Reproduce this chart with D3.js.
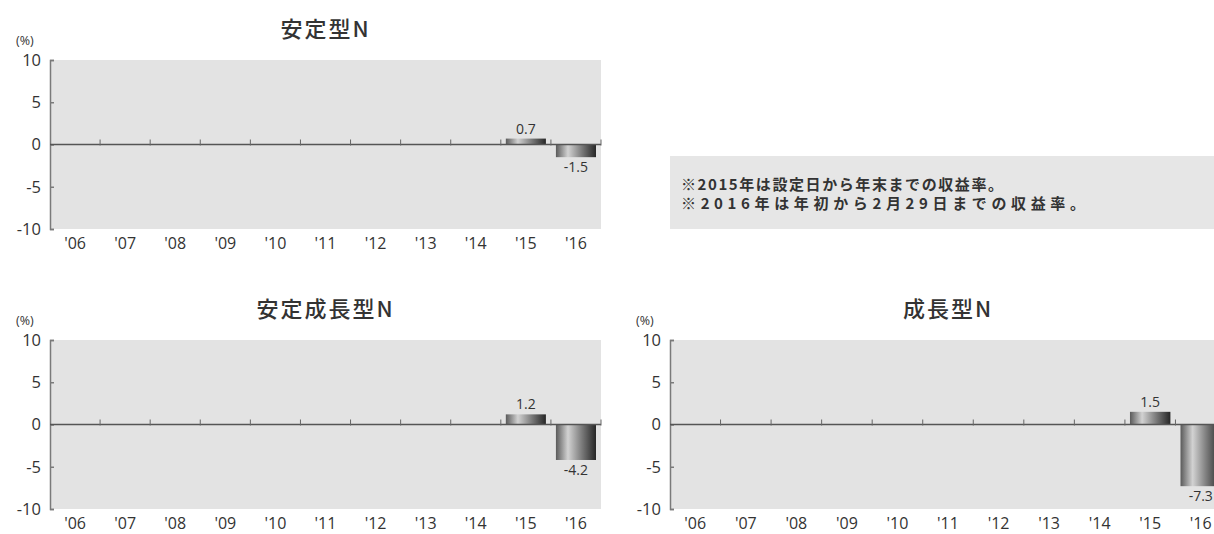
<!DOCTYPE html>
<html>
<head>
<meta charset="utf-8">
<script src="https://cdn.jsdelivr.net/npm/d3@7/dist/d3.min.js"></script>
<style>
  html, body { margin: 0; padding: 0; background: #fff; }
  svg { display: block; }
  text { font-family: "Open Sans", "Noto Sans CJK JP", sans-serif; fill: #333; }
  .cjk { font-family: "Noto Sans CJK JP", sans-serif; }
</style>
</head>
<body>
<svg id="chart" width="1214" height="534"></svg>
<script>
// Annual return by fund (%), years '06–'16
const years = ["'06", "'07", "'08", "'09", "'10", "'11", "'12", "'13", "'14", "'15", "'16"];
const stableN       = [null, null, null, null, null, null, null, null, null, 0.7, -1.5];
const stableGrowthN = [null, null, null, null, null, null, null, null, null, 1.2, -4.2];
const growthN       = [null, null, null, null, null, null, null, null, null, 1.5, -7.3];
const yTicks = [10, 5, 0, -5, -10];
const yDomain = [-10, 10];
const notes = [
  "※2015年は設定日から年末までの収益率。",
  "※2016年は年初から2月29日までの収益率。"
];

const svg = d3.select("#chart");

// Horizontal shading for the bars
const defs = svg.append("defs");
const grad = defs.append("linearGradient")
  .attr("id", "barShade").attr("x1", "0%").attr("x2", "100%").attr("y1", "0%").attr("y2", "0%");
[["0%", "#5a5a5a"], ["30%", "#d2d2d2"], ["65%", "#7a7a7a"], ["100%", "#262626"]]
  .forEach(([o, c]) => grad.append("stop").attr("offset", o).attr("stop-color", c));

function drawPanel(cfg) {
  const g = svg.append("g");
  const x = d3.scaleBand().domain(years).range([cfg.left, cfg.right]).paddingInner(0.2).paddingOuter(0.1);
  const y = d3.scaleLinear().domain(yDomain).range([cfg.bottom, cfg.top]);
  const step = x.step();

  // plot background
  g.append("rect")
    .attr("x", cfg.left).attr("y", cfg.top)
    .attr("width", cfg.right - cfg.left).attr("height", cfg.bottom - cfg.top)
    .attr("fill", "#e3e3e3");

  // title
  g.append("text").attr("class", "cjk")
    .attr("x", (cfg.left + cfg.right) / 2).attr("y", cfg.top - 23)
    .attr("text-anchor", "middle").attr("font-size", 22).attr("font-weight", 500)
    .attr("letter-spacing", 2).attr("fill", "#454545")
    .text(cfg.title);

  // unit label
  g.append("text")
    .attr("x", cfg.left - 34).attr("y", cfg.top - 15)
    .attr("font-size", 12.5).attr("fill", "#333")
    .text("(%)");

  // y axis
  const yAxis = d3.axisRight(y).tickValues(yTicks).tickSize(4).tickFormat("");
  const ya = g.append("g").attr("transform", `translate(${cfg.left},0)`).call(yAxis);
  ya.select(".domain").attr("stroke", "#7a7a7a").attr("stroke-width", 1.5);
  ya.selectAll(".tick line").attr("stroke", "#7a7a7a").attr("stroke-width", 1.5);
  g.selectAll(".ylab").data(yTicks).join("text")
    .attr("x", cfg.left - 9).attr("y", d => y(d)).attr("dy", "0.36em")
    .attr("text-anchor", "end").attr("font-size", 16.5)
    .text(d => d);

  // bars
  const vals = cfg.values.map((v, i) => ({ year: years[i], v })).filter(d => d.v != null);
  g.selectAll(".bar").data(vals).join("rect")
    .attr("x", d => x(d.year)).attr("width", x.bandwidth())
    .attr("y", d => y(Math.max(0, d.v)))
    .attr("height", d => Math.abs(y(d.v) - y(0)))
    .attr("fill", "url(#barShade)");

  // zero line with year separators
  g.append("line")
    .attr("x1", cfg.left).attr("x2", cfg.right)
    .attr("y1", y(0)).attr("y2", y(0))
    .attr("stroke", "#555").attr("stroke-width", 1.6);
  g.selectAll(".sep").data(years).join("line")
    .attr("x1", d => x(d) + x.bandwidth() + step * 0.1)
    .attr("x2", d => x(d) + x.bandwidth() + step * 0.1)
    .attr("y1", y(0) - 5).attr("y2", y(0) + 1)
    .attr("stroke", "#666").attr("stroke-width", 1);

  // value labels
  g.selectAll(".val").data(vals).join("text")
    .attr("x", d => x(d.year) + x.bandwidth() / 2)
    .attr("y", d => d.v >= 0 ? y(d.v) - 5 : y(d.v) + 15)
    .attr("text-anchor", "middle").attr("font-size", 14)
    .text(d => d.v.toFixed(1));

  // year labels
  g.selectAll(".xlab").data(years).join("text")
    .attr("x", d => x(d) + x.bandwidth() / 2)
    .attr("y", cfg.bottom + 20)
    .attr("text-anchor", "middle").attr("font-size", 16)
    .text(d => d);
}

drawPanel({ title: "安定型N",     values: stableN,       left: 50,  right: 601,  top: 60,  bottom: 229 });
drawPanel({ title: "安定成長型N", values: stableGrowthN, left: 50,  right: 601,  top: 340, bottom: 509 });
drawPanel({ title: "成長型N",     values: growthN,       left: 670, right: 1226, top: 340, bottom: 509 });

// footnote box
svg.append("rect").attr("x", 670).attr("y", 156).attr("width", 560).attr("height", 73).attr("fill", "#e6e6e6");
const noteWidths = [322, 404];
svg.selectAll(".note").data(notes).join("text")
  .attr("class", "cjk")
  .attr("x", 681).attr("y", (d, i) => 190 + i * 19)
  .attr("font-size", 15).attr("font-weight", 700).attr("fill", "#2a2a2a")
  .attr("textLength", (d, i) => noteWidths[i]).attr("lengthAdjust", "spacing")
  .text(d => d);
</script>
</body>
</html>
